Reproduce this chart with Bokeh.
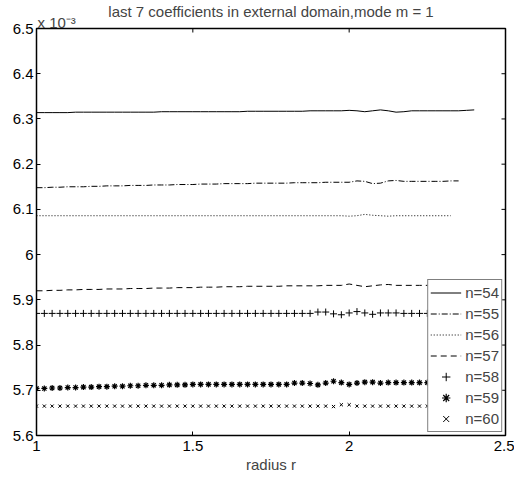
import math
from bokeh.plotting import figure
from bokeh.models import Range1d, FixedTicker, Legend, LegendItem, Title
from bokeh.embed import file_html
from bokeh.resources import INLINE

# radial grid (radius r)
r = [1.000, 1.025, 1.050, 1.075, 1.100, 1.125, 1.150, 1.175, 1.200, 1.225,
     1.250, 1.275, 1.300, 1.325, 1.350, 1.375, 1.400, 1.425, 1.450, 1.475,
     1.500, 1.525, 1.550, 1.575, 1.600, 1.625, 1.650, 1.675, 1.700, 1.725,
     1.750, 1.775, 1.800, 1.825, 1.850, 1.875, 1.900, 1.925, 1.950, 1.975,
     2.000, 2.025, 2.050, 2.075, 2.100, 2.125, 2.150, 2.175, 2.200, 2.225,
     2.250, 2.275, 2.300, 2.325, 2.350, 2.375, 2.400]

# coefficients (x 10^-3)
n54 = [6.314, 6.314, 6.314, 6.314, 6.314, 6.315, 6.315, 6.315, 6.315, 6.315,
       6.315, 6.315, 6.315, 6.315, 6.315, 6.315, 6.316, 6.316, 6.316, 6.316,
       6.316, 6.316, 6.316, 6.316, 6.316, 6.316, 6.316, 6.317, 6.317, 6.317,
       6.317, 6.317, 6.317, 6.317, 6.317, 6.318, 6.318, 6.318, 6.318, 6.318,
       6.319, 6.318, 6.316, 6.318, 6.320, 6.318, 6.315, 6.316, 6.318, 6.318,
       6.318, 6.318, 6.318, 6.318, 6.318, 6.319, 6.320]
n55 = [6.148, 6.148, 6.149, 6.149, 6.150, 6.150, 6.150, 6.151, 6.151, 6.152,
       6.152, 6.152, 6.153, 6.153, 6.153, 6.154, 6.154, 6.154, 6.155, 6.155,
       6.155, 6.156, 6.156, 6.156, 6.157, 6.157, 6.157, 6.157, 6.158, 6.158,
       6.158, 6.158, 6.158, 6.159, 6.159, 6.159, 6.159, 6.160, 6.160, 6.160,
       6.160, 6.163, 6.162, 6.157, 6.158, 6.163, 6.164, 6.162, 6.162, 6.162,
       6.162, 6.162, 6.162, 6.163, 6.163]
n56 = [6.086, 6.086, 6.086, 6.086, 6.086, 6.086, 6.086, 6.086, 6.086, 6.086,
       6.086, 6.086, 6.086, 6.086, 6.086, 6.086, 6.086, 6.086, 6.086, 6.086,
       6.086, 6.086, 6.086, 6.086, 6.086, 6.086, 6.086, 6.086, 6.086, 6.086,
       6.086, 6.086, 6.086, 6.086, 6.086, 6.086, 6.086, 6.086, 6.086, 6.086,
       6.085, 6.086, 6.089, 6.087, 6.086, 6.085, 6.086, 6.086, 6.086, 6.086,
       6.086, 6.086, 6.086, 6.086]
n57 = [5.920, 5.920, 5.921, 5.921, 5.922, 5.922, 5.923, 5.923, 5.923, 5.924,
       5.924, 5.924, 5.925, 5.925, 5.925, 5.926, 5.926, 5.926, 5.927, 5.927,
       5.927, 5.928, 5.928, 5.928, 5.929, 5.929, 5.929, 5.930, 5.930, 5.930,
       5.930, 5.930, 5.931, 5.931, 5.931, 5.931, 5.931, 5.932, 5.932, 5.932,
       5.935, 5.932, 5.929, 5.931, 5.933, 5.934, 5.932, 5.932, 5.932, 5.932,
       5.932, 5.932, 5.933, 5.933, 5.933, 5.933, 5.933]
n58 = [5.870, 5.870, 5.870, 5.870, 5.870, 5.870, 5.870, 5.870, 5.870, 5.870,
       5.870, 5.870, 5.870, 5.870, 5.870, 5.870, 5.870, 5.870, 5.870, 5.870,
       5.870, 5.870, 5.870, 5.870, 5.870, 5.870, 5.870, 5.870, 5.870, 5.870,
       5.870, 5.870, 5.870, 5.870, 5.870, 5.870, 5.873, 5.873, 5.869, 5.867,
       5.871, 5.874, 5.871, 5.868, 5.871, 5.871, 5.871, 5.870, 5.870, 5.870,
       5.870, 5.870, 5.870, 5.870, 5.870, 5.870, 5.870]
n59 = [5.704, 5.704, 5.705, 5.705, 5.706, 5.706, 5.707, 5.707, 5.708, 5.708,
       5.709, 5.709, 5.710, 5.710, 5.711, 5.711, 5.711, 5.712, 5.712, 5.712,
       5.713, 5.713, 5.713, 5.713, 5.713, 5.713, 5.713, 5.713, 5.713, 5.713,
       5.713, 5.713, 5.713, 5.716, 5.716, 5.715, 5.712, 5.716, 5.720, 5.717,
       5.713, 5.716, 5.718, 5.718, 5.716, 5.717, 5.717, 5.717, 5.717, 5.717,
       5.717, 5.717, 5.717, 5.717, 5.717, 5.717, 5.717]
n60 = [5.665, 5.665, 5.665, 5.665, 5.665, 5.665, 5.665, 5.665, 5.665, 5.665,
       5.665, 5.665, 5.665, 5.665, 5.665, 5.665, 5.665, 5.665, 5.665, 5.665,
       5.665, 5.665, 5.665, 5.665, 5.665, 5.665, 5.665, 5.665, 5.665, 5.665,
       5.665, 5.665, 5.665, 5.665, 5.665, 5.665, 5.665, 5.665, 5.664, 5.668,
       5.668, 5.665, 5.665, 5.665, 5.665, 5.665, 5.665, 5.665, 5.665, 5.665,
       5.665, 5.665, 5.665, 5.665, 5.665, 5.665, 5.665]

labels = ["n=54", "n=55", "n=56", "n=57", "n=58", "n=59", "n=60"]

x_ticks = [1.0, 1.5, 2.0, 2.5]
x_tick_labels = ["1", "1.5", "2", "2.5"]
y_ticks = [5.6, 5.7, 5.8, 5.9, 6.0, 6.1, 6.2, 6.3, 6.4, 6.5]
y_tick_labels = ["5.6", "5.7", "5.8", "5.9", "6", "6.1", "6.2", "6.3", "6.4", "6.5"]

title_text = "last 7 coefficients in external domain,mode m = 1"
exponent_text = "x 10\u207b\u00b3"
x_label = "radius r"

FONT = "Liberation Sans"
X_MIN, X_MAX = 1.0, 2.5
Y_MIN, Y_MAX = 5.6, 6.5

p = figure(width=514, height=477, output_backend="svg", toolbar_location=None,
           x_range=Range1d(X_MIN, X_MAX), y_range=Range1d(Y_MIN, Y_MAX),
           min_border_left=36, min_border_right=9, min_border_top=28,
           min_border_bottom=42, title=title_text)

p.title.text_font = FONT
p.title.text_font_size = "15px"
p.title.text_font_style = "normal"
p.title.align = "center"
p.title.standoff = -12

# exponent marker of the y axis, just above the top-left corner
p.add_layout(Title(text=exponent_text, align="left", offset=1, standoff=-4,
                   text_font=FONT, text_font_size="15px",
                   text_font_style="normal"), "above")

p.xgrid.grid_line_color = None
p.ygrid.grid_line_color = None
p.outline_line_color = "black"
p.outline_line_width = 1.5
p.background_fill_color = "white"
p.border_fill_color = "white"

p.xaxis.ticker = FixedTicker(ticks=x_ticks)
p.xaxis.major_label_overrides = dict(zip(x_ticks, x_tick_labels))
p.yaxis.ticker = FixedTicker(ticks=y_ticks)
p.yaxis.major_label_overrides = dict(zip(y_ticks, y_tick_labels))

for ax in p.axis:
    ax.axis_line_color = None
    ax.major_tick_in = 4
    ax.major_tick_out = 0
    ax.major_tick_line_color = "black"
    ax.major_tick_line_width = 1
    ax.minor_tick_line_color = None
    ax.major_label_text_font = FONT
    ax.major_label_text_font_size = "15px"
    ax.major_label_text_color = "black"

p.xaxis.major_label_standoff = 5
p.xaxis.axis_label = x_label
p.xaxis.axis_label_text_font = FONT
p.xaxis.axis_label_text_font_size = "15px"
p.xaxis.axis_label_text_font_style = "normal"
p.xaxis.axis_label_standoff = 2
p.yaxis.major_label_standoff = 3

# inward ticks on the top and right edges of the box (clipped to the frame)
p.scatter(x_ticks, [Y_MAX] * len(x_ticks), marker="dash", size=8,
          angle=math.pi / 2, line_color="black", line_width=1)
p.scatter([X_MAX] * len(y_ticks), y_ticks, marker="dash", size=8,
          line_color="black", line_width=1)

l54 = p.line(r, n54, line_color="black", line_width=1)
l55 = p.line(r[:len(n55)], n55, line_color="black", line_width=1, line_dash="6 2 1 2")
l56 = p.line(r[:len(n56)], n56, line_color="black", line_width=1, line_dash="1 2")
l57 = p.line(r, n57, line_color="black", line_width=1, line_dash="6 4")
m58 = p.scatter(r, n58, marker="cross", size=7, line_color="black", line_width=1)
m59 = p.scatter(r, n59, marker="asterisk", size=6, line_color="black", line_width=1.2)
m60 = p.scatter(r, n60, marker="x", size=4.5, line_color="black", line_width=1)

rends = [l54, l55, l56, l57, m58, m59, m60]
items = [LegendItem(label=lab, renderers=[rd]) for lab, rd in zip(labels, rends)]
legend = Legend(items=items, location="bottom_right",
                label_text_font=FONT, label_text_font_size="15px",
                glyph_width=31, glyph_height=21, label_height=21,
                spacing=0, padding=2, margin=3, label_standoff=4,
                border_line_color="black", border_line_width=1,
                background_fill_color="white", background_fill_alpha=1.0)
p.add_layout(legend)

open("out.html", "w").write(file_html(p, INLINE))
